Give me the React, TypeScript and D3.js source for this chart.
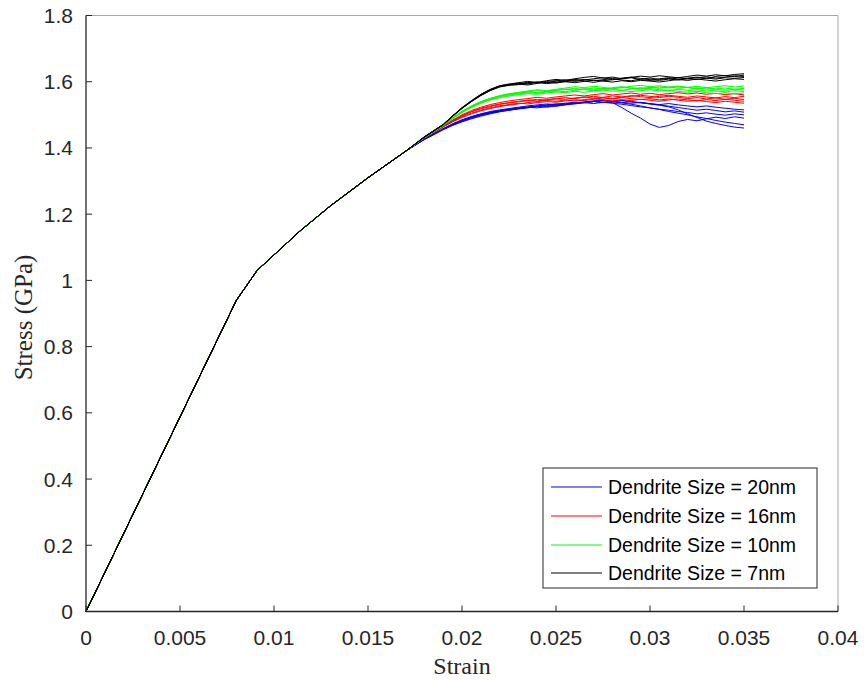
import React from 'react';
import * as d3 from 'd3';

// Shared elastic / early-plastic part of every run
const BASE_STRAIN = [0, 0.008, 0.0091, 0.0114, 0.013, 0.015, 0.017];
const BASE_STRESS = [0, 0.94, 1.03, 1.15, 1.225, 1.31, 1.39];

// Strain grid for the individual runs (after they separate)
const STRAIN_GRID = [
  0.018, 0.019, 0.0195, 0.020, 0.0205, 0.021, 0.0215, 0.022, 0.0225, 0.023, 0.0235, 0.024,
  0.0245, 0.025, 0.0255, 0.026, 0.0265, 0.027, 0.0275, 0.028, 0.0285, 0.029, 0.0295,
  0.030, 0.0305, 0.031, 0.0315, 0.032, 0.0325, 0.033, 0.0335, 0.034, 0.0345, 0.035,
];

const RUNS_20NM = [
  [1.428,1.458,1.472,1.484,1.494,1.502,1.508,1.513,1.517,1.521,1.524,1.527,1.530,1.533,1.531,1.535,1.538,1.541,1.538,1.537,1.522,1.505,1.490,1.472,1.462,1.468,1.480,1.486,1.482,1.488,1.493,1.489,1.494,1.490],
  [1.427,1.457,1.471,1.483,1.493,1.501,1.507,1.512,1.516,1.520,1.523,1.526,1.529,1.532,1.535,1.533,1.537,1.540,1.537,1.541,1.538,1.535,1.538,1.534,1.531,1.534,1.530,1.527,1.524,1.527,1.523,1.520,1.517,1.515],
  [1.426,1.456,1.469,1.480,1.490,1.498,1.505,1.510,1.514,1.518,1.522,1.525,1.523,1.527,1.531,1.534,1.538,1.541,1.544,1.540,1.543,1.539,1.536,1.533,1.529,1.524,1.515,1.503,1.492,1.481,1.474,1.468,1.463,1.460],
  [1.428,1.458,1.473,1.485,1.495,1.503,1.510,1.515,1.519,1.523,1.527,1.530,1.533,1.531,1.535,1.538,1.536,1.540,1.543,1.539,1.536,1.532,1.527,1.521,1.516,1.510,1.505,1.500,1.494,1.489,1.483,1.478,1.474,1.470],
  [1.425,1.455,1.468,1.479,1.488,1.496,1.503,1.509,1.514,1.518,1.521,1.525,1.528,1.526,1.530,1.534,1.537,1.534,1.538,1.535,1.532,1.528,1.524,1.521,1.517,1.514,1.510,1.507,1.503,1.506,1.502,1.499,1.503,1.500],
  [1.427,1.457,1.470,1.482,1.492,1.500,1.506,1.511,1.515,1.519,1.523,1.521,1.525,1.529,1.532,1.536,1.539,1.542,1.545,1.541,1.544,1.540,1.537,1.533,1.530,1.526,1.522,1.518,1.514,1.517,1.513,1.509,1.512,1.508],
];

const RUNS_16NM = [
  [1.431,1.465,1.483,1.498,1.510,1.520,1.527,1.533,1.537,1.541,1.544,1.542,1.546,1.549,1.547,1.551,1.554,1.550,1.553,1.557,1.554,1.558,1.555,1.552,1.556,1.559,1.556,1.553,1.557,1.554,1.551,1.555,1.552,1.556],
  [1.430,1.464,1.480,1.494,1.505,1.514,1.521,1.527,1.531,1.535,1.533,1.537,1.540,1.538,1.542,1.545,1.543,1.547,1.551,1.548,1.552,1.549,1.546,1.549,1.545,1.548,1.544,1.541,1.544,1.540,1.537,1.541,1.538,1.535],
  [1.431,1.465,1.484,1.500,1.513,1.523,1.531,1.537,1.542,1.546,1.549,1.553,1.550,1.554,1.557,1.560,1.557,1.561,1.564,1.560,1.563,1.566,1.562,1.565,1.561,1.564,1.567,1.563,1.566,1.562,1.565,1.561,1.564,1.560],
  [1.430,1.463,1.479,1.492,1.503,1.512,1.519,1.525,1.529,1.533,1.537,1.540,1.543,1.541,1.545,1.542,1.546,1.549,1.545,1.542,1.546,1.543,1.547,1.544,1.541,1.545,1.548,1.545,1.542,1.546,1.543,1.547,1.544,1.541],
  [1.430,1.464,1.482,1.497,1.509,1.518,1.525,1.531,1.536,1.539,1.543,1.547,1.544,1.548,1.552,1.549,1.553,1.556,1.552,1.549,1.553,1.556,1.559,1.556,1.552,1.556,1.553,1.549,1.552,1.548,1.551,1.547,1.550,1.546],
];

const RUNS_10NM = [
  [1.432,1.468,1.491,1.511,1.527,1.540,1.550,1.557,1.562,1.566,1.569,1.573,1.571,1.575,1.578,1.574,1.577,1.581,1.578,1.582,1.585,1.581,1.579,1.583,1.580,1.584,1.587,1.583,1.586,1.582,1.585,1.588,1.584,1.587],
  [1.432,1.467,1.489,1.508,1.524,1.537,1.547,1.554,1.560,1.563,1.567,1.565,1.569,1.572,1.570,1.575,1.579,1.576,1.580,1.577,1.574,1.578,1.582,1.579,1.576,1.573,1.577,1.574,1.571,1.575,1.572,1.569,1.573,1.570],
  [1.432,1.468,1.490,1.510,1.526,1.539,1.549,1.558,1.564,1.568,1.572,1.576,1.573,1.577,1.581,1.585,1.582,1.586,1.583,1.579,1.582,1.586,1.589,1.585,1.588,1.584,1.580,1.583,1.579,1.582,1.578,1.581,1.577,1.580],
  [1.431,1.467,1.488,1.507,1.522,1.535,1.545,1.552,1.557,1.561,1.564,1.562,1.566,1.569,1.567,1.571,1.568,1.572,1.575,1.571,1.574,1.570,1.573,1.576,1.572,1.575,1.571,1.568,1.571,1.567,1.564,1.567,1.563,1.566],
  [1.432,1.468,1.490,1.509,1.525,1.538,1.548,1.556,1.561,1.566,1.570,1.567,1.571,1.574,1.577,1.580,1.576,1.573,1.576,1.579,1.583,1.580,1.577,1.581,1.584,1.581,1.585,1.582,1.578,1.581,1.577,1.574,1.578,1.575],
];

const RUNS_7NM = [
  [1.433,1.470,1.496,1.520,1.541,1.560,1.576,1.587,1.592,1.594,1.598,1.596,1.601,1.603,1.600,1.604,1.607,1.603,1.606,1.610,1.605,1.603,1.608,1.611,1.607,1.610,1.613,1.609,1.612,1.615,1.611,1.614,1.618,1.616],
  [1.433,1.471,1.497,1.521,1.542,1.561,1.575,1.585,1.590,1.596,1.593,1.599,1.597,1.602,1.606,1.601,1.605,1.609,1.612,1.606,1.609,1.612,1.606,1.604,1.609,1.612,1.608,1.611,1.614,1.610,1.616,1.619,1.615,1.620],
  [1.433,1.470,1.495,1.519,1.540,1.558,1.573,1.584,1.589,1.591,1.595,1.599,1.594,1.598,1.603,1.607,1.602,1.598,1.603,1.606,1.611,1.614,1.610,1.606,1.604,1.608,1.605,1.609,1.607,1.611,1.608,1.612,1.610,1.613],
  [1.434,1.471,1.497,1.522,1.543,1.562,1.577,1.588,1.593,1.597,1.601,1.598,1.603,1.607,1.604,1.609,1.613,1.616,1.611,1.614,1.609,1.613,1.617,1.614,1.618,1.615,1.612,1.616,1.620,1.617,1.621,1.618,1.622,1.624],
  [1.433,1.470,1.496,1.520,1.540,1.559,1.574,1.586,1.591,1.593,1.590,1.595,1.598,1.596,1.600,1.597,1.601,1.605,1.602,1.599,1.603,1.600,1.604,1.602,1.599,1.603,1.607,1.604,1.608,1.605,1.602,1.606,1.609,1.607],
];

const SERIES_LABELS = [
  'Dendrite Size = 20nm',
  'Dendrite Size = 16nm',
  'Dendrite Size = 10nm',
  'Dendrite Size = 7nm',
];
const SERIES_COLORS = ['#0000ff', '#ff0000', '#00ff00', '#000000'];
const SERIES_RUNS = [RUNS_20NM, RUNS_16NM, RUNS_10NM, RUNS_7NM];

const X_TICKS = [0, 0.005, 0.01, 0.015, 0.02, 0.025, 0.03, 0.035, 0.04];
const Y_TICKS = [0, 0.2, 0.4, 0.6, 0.8, 1, 1.2, 1.4, 1.6, 1.8];

const X_LABEL = 'Strain';
const Y_LABEL = 'Stress (GPa)';

export default function App() {
  const W = 865;
  const H = 680;
  const left = 86;
  const right = 838;
  const top = 15.5;
  const bottom = 611.5;

  const x = d3.scaleLinear().domain([0, 0.04]).range([left, right]);
  const y = d3.scaleLinear().domain([0, 1.8]).range([bottom, top]);

  const line = d3
    .line<[number, number]>()
    .x((d) => x(d[0]))
    .y((d) => y(d[1]));

  const runPoints = (run: number[]): [number, number][] => {
    const pts: [number, number][] = BASE_STRAIN.map((s, i) => [s, BASE_STRESS[i]]);
    run.forEach((v, i) => pts.push([STRAIN_GRID[i], v]));
    return pts;
  };

  const fmt = (v: number) => String(+v.toFixed(4));
  const sans = '"Liberation Sans", Arial, Helvetica, sans-serif';
  const serif = '"Liberation Serif", "Times New Roman", serif';

  const legX = 543;
  const legY = 468;
  const legW = 274;
  const legH = 120;
  const rowY = [487, 516, 545, 573];

  return (
    <svg
      width={W}
      height={H}
      style={{ position: 'absolute', left: 0, top: 0, background: '#ffffff' }}
    >
      {/* box top / right */}
      <line x1={left} x2={right} y1={top} y2={top} stroke="#a6a6a6" strokeWidth={1} />
      <line x1={right} x2={right} y1={top} y2={bottom} stroke="#a6a6a6" strokeWidth={1} />

      {/* data */}
      <g fill="none" strokeWidth={1}>
        {SERIES_RUNS.map((runs, si) =>
          runs.map((run, ri) => (
            <path key={`${si}-${ri}`} d={line(runPoints(run)) || ''} stroke={SERIES_COLORS[si]} />
          ))
        )}
      </g>

      {/* axes */}
      <line x1={left} x2={right} y1={bottom} y2={bottom} stroke="#262626" strokeWidth={1.3} />
      <line x1={left} x2={left} y1={top} y2={bottom} stroke="#262626" strokeWidth={1.3} />

      {X_TICKS.map((t) => (
        <g key={`xt${t}`}>
          <line x1={x(t)} x2={x(t)} y1={bottom} y2={bottom - 6} stroke="#262626" strokeWidth={1} />
          <text
            x={x(t)}
            y={645}
            textAnchor="middle"
            fontFamily={sans}
            fontSize={21}
            fill="#262626"
          >
            {fmt(t)}
          </text>
        </g>
      ))}
      {Y_TICKS.map((t) => (
        <g key={`yt${t}`}>
          <line x1={left} x2={left + 6} y1={y(t)} y2={y(t)} stroke="#262626" strokeWidth={1} />
          <text
            x={73}
            y={y(t) + 7.5}
            textAnchor="end"
            fontFamily={sans}
            fontSize={21}
            fill="#262626"
          >
            {fmt(t)}
          </text>
        </g>
      ))}

      <text
        x={(left + right) / 2}
        y={674}
        textAnchor="middle"
        fontFamily={serif}
        fontSize={24}
        fill="#262626"
      >
        {X_LABEL}
      </text>
      <text
        transform={`translate(32, ${(top + bottom) / 2 + 4}) rotate(-90)`}
        textAnchor="middle"
        fontFamily={serif}
        fontSize={25}
        fill="#262626"
      >
        {Y_LABEL}
      </text>

      {/* legend */}
      <rect x={legX} y={legY} width={legW} height={legH} fill="#ffffff" stroke="#262626" strokeWidth={1} />
      {SERIES_LABELS.map((lab, i) => (
        <g key={lab}>
          <line x1={551} x2={602} y1={rowY[i]} y2={rowY[i]} stroke={SERIES_COLORS[i]} strokeWidth={1} />
          <text
            x={608}
            y={rowY[i] + 7}
            fontFamily={sans}
            fontSize={19.5}
            fill="#000000"
          >
            {lab}
          </text>
        </g>
      ))}
    </svg>
  );
}
